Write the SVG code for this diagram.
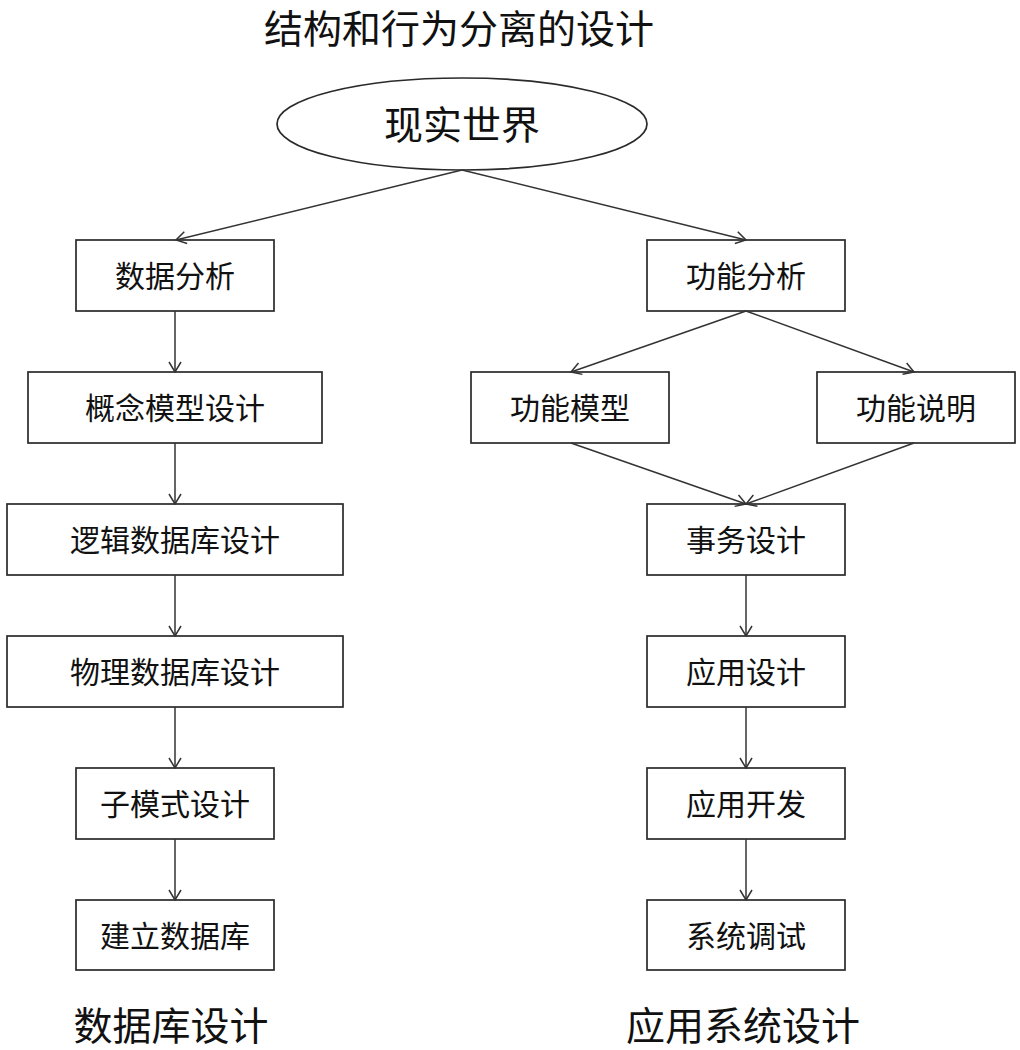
<svg xmlns="http://www.w3.org/2000/svg" width="1020" height="1050" viewBox="0 0 1020 1050">
<defs>
<marker id="arr" viewBox="0 0 12 14" refX="11" refY="7" markerWidth="12" markerHeight="14" markerUnits="userSpaceOnUse" orient="auto">
<path d="M1,1 L11,7 L1,13" fill="none" stroke="#333" stroke-width="1.5"/>
</marker>
<style>
.box{fill:#fff;stroke:#2a2a2a;stroke-width:1.7}
.t{font-family:"Microsoft YaHei","Noto Sans CJK SC",sans-serif;font-size:30px;fill:#111;text-anchor:middle;dominant-baseline:central}
.big{font-size:39px}
.e{fill:none;stroke:#333;stroke-width:1.5;marker-end:url(#arr)}
</style>
</defs>
<rect width="1020" height="1050" fill="#fff"/>
<text class="t big" x="459" y="26">结构和行为分离的设计</text>
<g id="n-real"><ellipse cx="462" cy="124" rx="185" ry="46" class="box"/><text class="t big" x="462" y="122">现实世界</text></g>
<g id="n-da"><rect x="76" y="240" width="198" height="71" class="box"/><text class="t" x="175" y="274">数据分析</text></g>
<g id="n-cm"><rect x="28" y="372" width="294" height="71" class="box"/><text class="t" x="175" y="406">概念模型设计</text></g>
<g id="n-ld"><rect x="7" y="504" width="336" height="71" class="box"/><text class="t" x="175" y="538">逻辑数据库设计</text></g>
<g id="n-pd"><rect x="7" y="636" width="336" height="71" class="box"/><text class="t" x="175" y="670">物理数据库设计</text></g>
<g id="n-sm"><rect x="76" y="768" width="198" height="71" class="box"/><text class="t" x="175" y="802">子模式设计</text></g>
<g id="n-bd"><rect x="76" y="900" width="198" height="70" class="box"/><text class="t" x="175" y="934">建立数据库</text></g>
<g id="n-fa"><rect x="647" y="240" width="198" height="71" class="box"/><text class="t" x="746" y="274">功能分析</text></g>
<g id="n-fm"><rect x="471" y="372" width="198" height="71" class="box"/><text class="t" x="570" y="406">功能模型</text></g>
<g id="n-fs"><rect x="817" y="372" width="198" height="71" class="box"/><text class="t" x="916" y="406">功能说明</text></g>
<g id="n-td"><rect x="647" y="504" width="198" height="71" class="box"/><text class="t" x="746" y="538">事务设计</text></g>
<g id="n-ad"><rect x="647" y="636" width="198" height="71" class="box"/><text class="t" x="746" y="670">应用设计</text></g>
<g id="n-dev"><rect x="647" y="768" width="198" height="71" class="box"/><text class="t" x="746" y="802">应用开发</text></g>
<g id="n-dbg"><rect x="647" y="900" width="198" height="70" class="box"/><text class="t" x="746" y="934">系统调试</text></g>
<text class="t big" x="171" y="1023">数据库设计</text>
<text class="t big" x="743" y="1023">应用系统设计</text>
<g id="connectors">
<line class="e" x1="462" y1="170" x2="176" y2="240"/>
<line class="e" x1="462" y1="170" x2="746" y2="240"/>
<line class="e" x1="175" y1="311" x2="175" y2="372"/>
<line class="e" x1="175" y1="443" x2="175" y2="504"/>
<line class="e" x1="175" y1="575" x2="175" y2="636"/>
<line class="e" x1="175" y1="707" x2="175" y2="768"/>
<line class="e" x1="175" y1="839" x2="175" y2="900"/>
<line class="e" x1="746" y1="311" x2="571" y2="372"/>
<line class="e" x1="746" y1="311" x2="914" y2="372"/>
<line class="e" x1="571" y1="443" x2="746" y2="504"/>
<line class="e" x1="914" y1="443" x2="746" y2="504"/>
<line class="e" x1="746" y1="575" x2="746" y2="636"/>
<line class="e" x1="746" y1="707" x2="746" y2="768"/>
<line class="e" x1="746" y1="839" x2="746" y2="900"/>
</g>
</svg>
